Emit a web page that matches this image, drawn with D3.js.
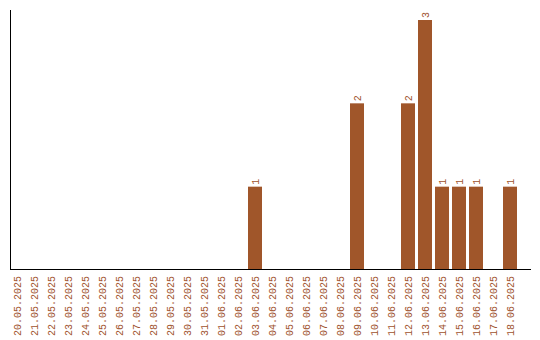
<!DOCTYPE html>
<html><head><meta charset="utf-8">
<script src="https://cdn.jsdelivr.net/npm/d3@7"></script>
<style>html,body{margin:0;padding:0;background:#fff;}</style>
</head><body>
<svg id="c" width="540" height="340"></svg>
<script>
const dates = ["20.05.2025","21.05.2025","22.05.2025","23.05.2025","24.05.2025","25.05.2025","26.05.2025","27.05.2025","28.05.2025","29.05.2025","30.05.2025","31.05.2025","01.06.2025","02.06.2025","03.06.2025","04.06.2025","05.06.2025","06.06.2025","07.06.2025","08.06.2025","09.06.2025","10.06.2025","11.06.2025","12.06.2025","13.06.2025","14.06.2025","15.06.2025","16.06.2025","17.06.2025","18.06.2025"];
const counts = [0,0,0,0,0,0,0,0,0,0,0,0,0,0,1,0,0,0,0,0,2,0,0,2,3,1,1,1,0,1];

const color = "#a0522d";
const svg = d3.select("#c");
const x = d3.scaleBand().domain(dates).range([10, 517]).paddingInner(3/17).paddingOuter(0);
const y = d3.scaleLinear().domain([0, 3]).range([270, 20]);
const data = dates.map((d, i) => ({d, v: counts[i]}));

svg.selectAll("rect.bar").data(data.filter(e => e.v > 0)).join("rect")
  .attr("class","bar")
  .attr("x", e => x(e.d)).attr("width", x.bandwidth())
  .attr("y", e => y(e.v)).attr("height", e => y(0) - y(e.v))
  .attr("fill", "#a0562a");

svg.selectAll("text.val").data(data.filter(e => e.v > 0)).join("text")
  .attr("class","val")
  .attr("transform", e => `translate(${x(e.d) + x.bandwidth()/2},${y(e.v) - 2}) rotate(-90)`)
  .attr("dy","0.35em")
  .attr("text-anchor","start")
  .attr("font-family","Liberation Mono, monospace")
  .attr("font-size","10px")
  .attr("fill", color)
  .text(e => e.v);

svg.selectAll("text.lab").data(dates).join("text")
  .attr("class","lab")
  .attr("transform", d => `translate(${x(d) + x.bandwidth()/2},276) rotate(-90)`)
  .attr("dy","0.35em")
  .attr("text-anchor","end")
  .attr("font-family","Liberation Mono, monospace")
  .attr("font-size","10px")
  .attr("fill", color)
  .text(d => d);

svg.append("line").attr("x1",10.5).attr("x2",10.5).attr("y1",10).attr("y2",270).attr("stroke","#000");
svg.append("line").attr("x1",10).attr("x2",531).attr("y1",269.5).attr("y2",269.5).attr("stroke","#000");
</script>
</body></html>
